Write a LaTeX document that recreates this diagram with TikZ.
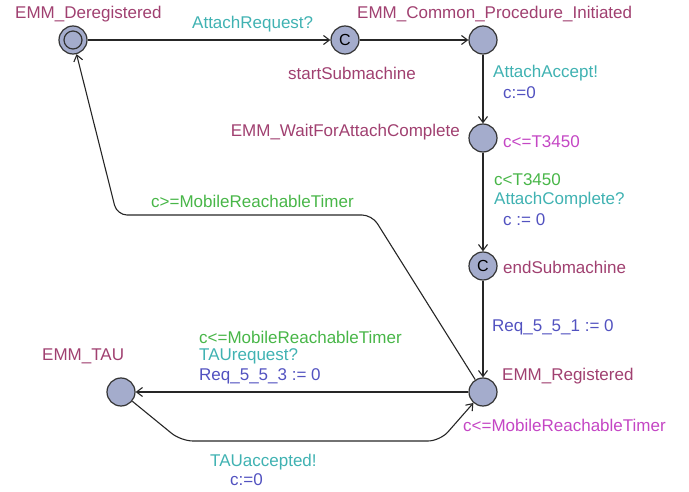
\documentclass[tikz,border=0pt]{standalone}
\usepackage{fontspec}
\setmainfont{Liberation Sans}
\usetikzlibrary{arrows.meta}
\definecolor{locfill}{RGB}{164,172,204}
\definecolor{locname}{RGB}{160,64,112}
\definecolor{syncc}{RGB}{64,178,178}
\definecolor{guardc}{RGB}{72,182,72}
\definecolor{assignc}{RGB}{82,82,192}
\definecolor{invc}{RGB}{196,70,196}
\begin{document}
\begin{tikzpicture}[x=1pt,y=-1pt,
  loc/.style={circle,draw=black!80,line width=1.2pt,fill=locfill,minimum size=28pt,inner sep=0pt,font=\fontsize{16}{19}\selectfont},
  inner/.style={circle,draw=black!80,line width=1.2pt,minimum size=18pt,inner sep=0pt},
  lbl/.style={inner sep=0pt,font=\fontsize{17}{20}\selectfont},
  lname/.style={lbl,text=locname},
  sync/.style={lbl,text=syncc},
  guard/.style={lbl,text=guardc},
  assign/.style={lbl,text=assignc},
  inv/.style={lbl,text=invc},
  edge/.style={draw=black!85,line width=1.1pt,-{Straight Barb[length=6pt,width=9pt]}},
]
\useasboundingbox (0,0) rectangle (689,492);
% locations
\node[loc] (dereg) at (73,40) {};
\node[inner] (deregin) at (73,40) {};
\node[loc] (start) at (345,40) {C};
\node[loc] (common) at (483,40) {};
\node[loc] (wait) at (483,138) {};
\node[loc] (endsub) at (483,266) {C};
\node[loc] (reg) at (483,392) {};
\node[loc] (tau) at (121,392) {};
% nails
\coordinate (n1) at (372,215);
\coordinate (n2) at (117,215);
\coordinate (t1) at (181,441);
\coordinate (t2) at (440,441);
% edges
\draw[edge] (dereg) -- (start);
\draw[edge] (start) -- (common);
\draw[edge] (common) -- (wait);
\draw[edge] (wait) -- (endsub);
\draw[edge] (endsub) -- (reg);
\draw[edge,rounded corners=10pt] (reg) -- (n1) -- (n2) -- (dereg);
\draw[edge] (reg) -- (tau);
\draw[edge,rounded corners=12pt] (tau) -- (t1) -- (t2) -- (reg);
% location names and invariants
\node[lname,anchor=west] (l1) at (15,14) {EMM\_Deregistered};
\node[lname,anchor=west] (l2) at (288,73) {startSubmachine};
\node[lname,anchor=west] (l3) at (357,14) {EMM\_Common\_Procedure\_Initiated};
\node[lname,anchor=east] (l4) at (460,132) {EMM\_WaitForAttachComplete};
\node[inv,anchor=west] (i4) at (503,142) {c<=T3450};
\node[lname,anchor=west] (l5) at (503,267) {endSubmachine};
\node[lname,anchor=west] (l6) at (502,376) {EMM\_Registered};
\node[inv,anchor=west] (i6) at (463,425) {c<=MobileReachableTimer};
\node[lname,anchor=west] (l7) at (42,356) {EMM\_TAU};
% edge labels
\node[sync,anchor=west] (e1) at (192,24) {AttachRequest?};
\node[sync,anchor=west] (e2a) at (493,73) {AttachAccept!};
\node[assign,anchor=west] (e2b) at (503,93) {c:=0};
\node[guard,anchor=west] (e3a) at (494,180) {c<T3450};
\node[sync,anchor=west] (e3b) at (494,200) {AttachComplete?};
\node[assign,anchor=west] (e3c) at (503,220) {c := 0};
\node[assign,anchor=west] (e4) at (492,327) {Req\_5\_5\_1 := 0};
\node[guard,anchor=west] (e5) at (151,201) {c>=MobileReachableTimer};
\node[guard,anchor=west] (e6a) at (199,337) {c<=MobileReachableTimer};
\node[sync,anchor=west] (e6b) at (199,356) {TAUrequest?};
\node[assign,anchor=west] (e6c) at (199,376) {Req\_5\_5\_3 := 0};
\node[sync,anchor=west] (e7a) at (210,462) {TAUaccepted!};
\node[assign,anchor=west] (e7b) at (230,480) {c:=0};
\end{tikzpicture}
\end{document}
